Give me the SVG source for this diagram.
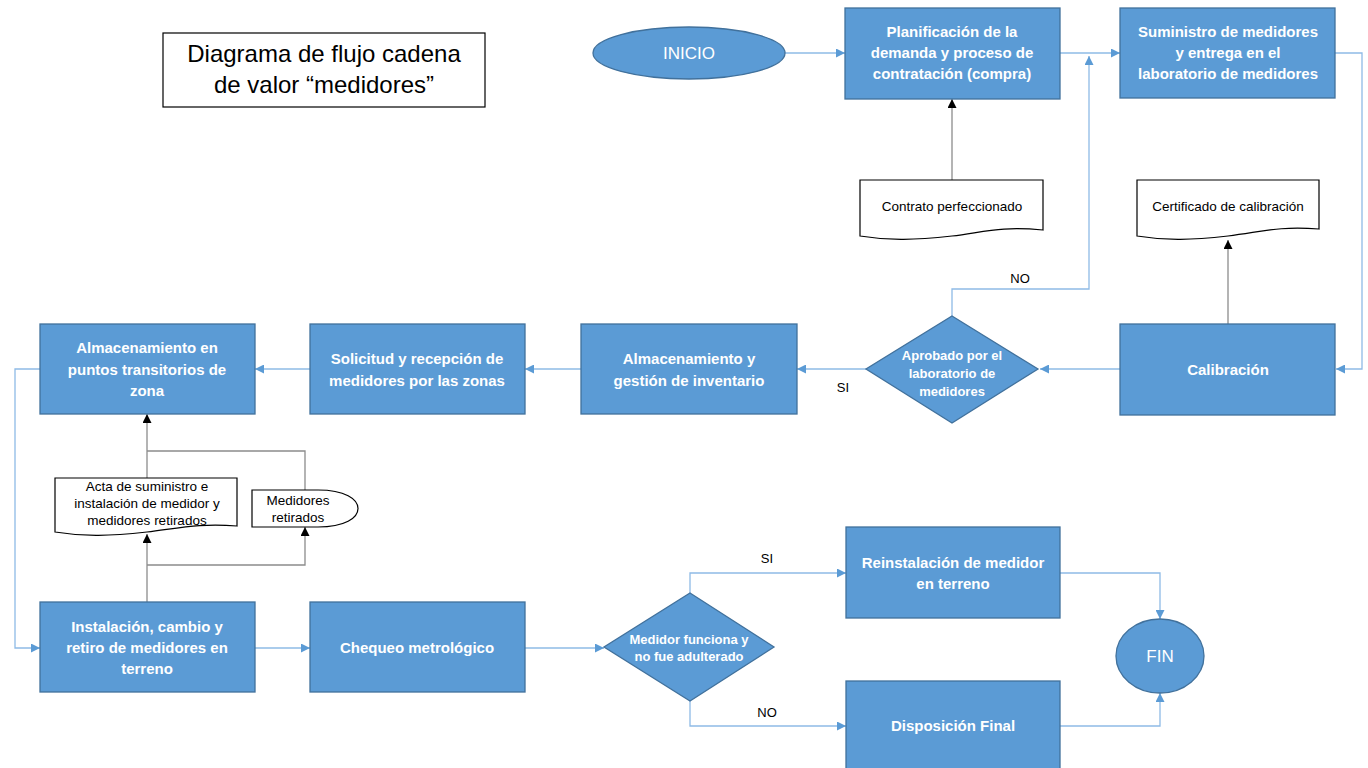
<svg xmlns="http://www.w3.org/2000/svg" width="1368" height="768" viewBox="0 0 1368 768">
<defs>
<marker id="ab" viewBox="0 0 10 10" refX="10" refY="5" markerWidth="9" markerHeight="9" markerUnits="userSpaceOnUse" orient="auto"><path d="M0,0 L10,5 L0,10 Z" fill="#5B9BD5"/></marker>
<marker id="ak" viewBox="0 0 10 10" refX="10" refY="5" markerWidth="9" markerHeight="9" markerUnits="userSpaceOnUse" orient="auto"><path d="M0,0 L10,5 L0,10 Z" fill="#000"/></marker>
<style>
.box{fill:#5B9BD5;stroke:#41719C;stroke-width:1.3}
.t{font-family:"Liberation Sans",Arial,sans-serif;font-weight:bold;font-size:15px;fill:#fff;text-anchor:middle}
.td{font-family:"Liberation Sans",Arial,sans-serif;font-weight:bold;font-size:13px;fill:#fff;text-anchor:middle}
.tr{font-family:"Liberation Sans",Arial,sans-serif;font-size:17px;fill:#fff;text-anchor:middle}
.doc{fill:#fff;stroke:#000;stroke-width:1.2}
.tk{font-family:"Liberation Sans",Arial,sans-serif;font-size:13.5px;fill:#000;text-anchor:middle}
.ts{font-family:"Liberation Sans",Arial,sans-serif;font-size:13.5px;fill:#000;text-anchor:middle}
.lb{font-family:"Liberation Sans",Arial,sans-serif;font-size:13px;fill:#000;text-anchor:middle}
.c{fill:none;stroke:#8EBBE6;stroke-width:1.3}
.g{fill:none;stroke:#8C8C8C;stroke-width:1.3}
.title{font-family:"Liberation Sans",Arial,sans-serif;font-size:24px;fill:#000;text-anchor:middle}
</style>
</defs>
<rect width="1368" height="768" fill="#fff"/>

<g id="title">
<rect x="163" y="33" width="322" height="74" fill="#fff" stroke="#000" stroke-width="1.2"/>
<text class="title" x="324" y="62">Diagrama de flujo cadena</text>
<text class="title" x="324" y="93">de valor “medidores”</text>
</g>

<g id="connectors">
<path class="c" d="M785,53 H845" marker-end="url(#ab)"/>
<path class="c" d="M1060,53 H1120" marker-end="url(#ab)"/>
<path class="c" d="M952,316 V289 H1089 V56" marker-end="url(#ab)"/>
<path class="c" d="M1335,53 H1362 V369 H1336" marker-end="url(#ab)"/>
<path class="c" d="M1120,369 H1040" marker-end="url(#ab)"/>
<path class="c" d="M866,369 H797" marker-end="url(#ab)"/>
<path class="c" d="M581,369 H525" marker-end="url(#ab)"/>
<path class="c" d="M310,369 H255" marker-end="url(#ab)"/>
<path class="c" d="M40,369 H15 V648 H40" marker-end="url(#ab)"/>
<path class="c" d="M255,648 H310" marker-end="url(#ab)"/>
<path class="c" d="M525,648 H604" marker-end="url(#ab)"/>
<path class="c" d="M690,593 V573 H846" marker-end="url(#ab)"/>
<path class="c" d="M690,701 V726 H846" marker-end="url(#ab)"/>
<path class="c" d="M1060,573 H1160 V619" marker-end="url(#ab)"/>
<path class="c" d="M1060,726 H1160 V693" marker-end="url(#ab)"/>
<path class="g" d="M952,180 V99" stroke="#000" marker-end="url(#ak)"/>
<path class="g" d="M1228,324 V240" marker-end="url(#ak)"/>
<path class="g" d="M147,602 V534" marker-end="url(#ak)"/>
<path class="g" d="M147,565 H305 V527" marker-end="url(#ak)"/>
<path class="g" d="M147,478 V414" marker-end="url(#ak)"/>
<path class="g" d="M147,451 H305 V490"/>
<text class="lb" x="1020" y="283">NO</text>
<text class="lb" x="843" y="392">SI</text>
<text class="lb" x="767" y="563">SI</text>
<text class="lb" x="767" y="717">NO</text>
</g>

<g id="inicio">
<ellipse cx="689" cy="53" rx="96" ry="26" class="box"/>
<text class="tr" x="689" y="59">INICIO</text>
</g>

<g id="planificacion">
<rect x="845" y="8" width="215" height="91" class="box"/>
<text class="t" x="952" y="37">Planificación  de la</text>
<text class="t" x="952" y="58">demanda  y proceso de</text>
<text class="t" x="952" y="79">contratación (compra)</text>
</g>

<g id="suministro">
<rect x="1120" y="8" width="215" height="90" class="box"/>
<text class="t" x="1228" y="37">Suministro de medidores</text>
<text class="t" x="1228" y="58">y entrega en el</text>
<text class="t" x="1228" y="79">laboratorio de medidores</text>
</g>

<g id="contrato">
<path class="doc" d="M860,180 H1043 V230 C1000,226 985,232 952,236 C915,240 890,241 860,236 Z"/>
<text class="tk" x="952" y="211">Contrato perfeccionado</text>
</g>

<g id="certificado">
<path class="doc" d="M1137,180 H1319 V229 C1276,226 1262,232 1228,236 C1192,240 1167,241 1137,236 Z"/>
<text class="tk" x="1228" y="211">Certificado de calibración</text>
</g>

<g id="calibracion">
<rect x="1120" y="324" width="215" height="91" class="box"/>
<text class="t" x="1228" y="375">Calibración</text>
</g>

<g id="aprobado">
<polygon points="952,316 1038,369 952,423 866,369" class="box"/>
<text class="td" x="952" y="360">Aprobado por el</text>
<text class="td" x="952" y="378">laboratorio  de</text>
<text class="td" x="952" y="396">medidores</text>
</g>

<g id="almacenamiento-gestion">
<rect x="581" y="324" width="216" height="90" class="box"/>
<text class="t" x="689" y="364">Almacenamiento  y</text>
<text class="t" x="689" y="386">gestión de inventario</text>
</g>

<g id="solicitud">
<rect x="310" y="324" width="215" height="90" class="box"/>
<text class="t" x="417" y="364">Solicitud  y recepción de</text>
<text class="t" x="417" y="386">medidores por las zonas</text>
</g>

<g id="almacenamiento-puntos">
<rect x="40" y="324" width="215" height="90" class="box"/>
<text class="t" x="147" y="353">Almacenamiento  en</text>
<text class="t" x="147" y="375">puntos transitorios de</text>
<text class="t" x="147" y="396">zona</text>
</g>

<g id="acta">
<path class="doc" d="M55,478 H237 V526 C200,523 180,528 147,532 C110,536 85,537 55,532 Z"/>
<text class="ts" x="147" y="491">Acta de suministro e</text>
<text class="ts" x="147" y="508">instalación de medidor y</text>
<text class="ts" x="147" y="525">medidores retirados</text>
</g>

<g id="medidores-retirados">
<path class="doc" d="M252,490 H318 C345,490 358,499 358,508.5 C358,518 345,527 318,527 H252 Z"/>
<text class="ts" x="298" y="505">Medidores</text>
<text class="ts" x="298" y="522">retirados</text>
</g>

<g id="instalacion">
<rect x="40" y="602" width="215" height="90" class="box"/>
<text class="t" x="147" y="632">Instalación, cambio y</text>
<text class="t" x="147" y="653">retiro de medidores en</text>
<text class="t" x="147" y="674">terreno</text>
</g>

<g id="chequeo">
<rect x="310" y="602" width="215" height="90" class="box"/>
<text class="t" x="417" y="653">Chequeo metrológico</text>
</g>

<g id="medidor-funciona">
<polygon points="690,593 774,647 690,701 604,647" class="box"/>
<text class="td" x="689" y="644">Medidor funciona y</text>
<text class="td" x="689" y="661">no fue adulterado</text>
</g>

<g id="reinstalacion">
<rect x="846" y="527" width="214" height="91" class="box"/>
<text class="t" x="953" y="568">Reinstalación de medidor</text>
<text class="t" x="953" y="589">en terreno</text>
</g>

<g id="disposicion">
<rect x="846" y="681" width="214" height="90" class="box"/>
<text class="t" x="953" y="731">Disposición  Final</text>
</g>

<g id="fin">
<ellipse cx="1160" cy="656" rx="44" ry="37" class="box"/>
<text class="tr" x="1160" y="662">FIN</text>
</g>
</svg>
